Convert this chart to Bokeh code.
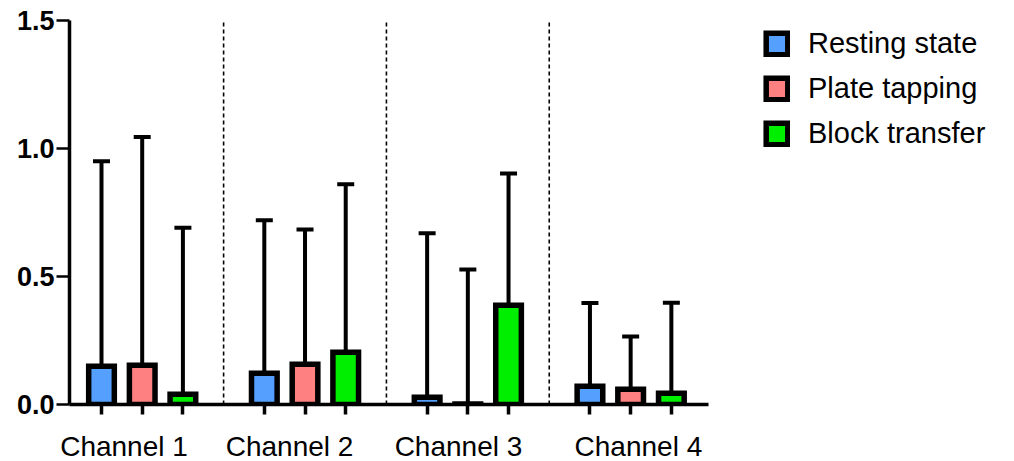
import numpy as np
from bokeh.plotting import figure
from bokeh.models import (ColumnDataSource, Range1d, FixedTicker, LinearAxis, Legend, LegendItem,
                          Whisker, TeeHead, NumeralTickFormatter)
from bokeh.embed import file_html
from bokeh.resources import INLINE

# ---- data ----
channels = ["Channel 1", "Channel 2", "Channel 3", "Channel 4"]
series = ["Resting state", "Plate tapping", "Block transfer"]
resting_mean = [0.149, 0.122, 0.028, 0.071]
tapping_mean = [0.153, 0.157, 0.002, 0.060]
block_mean = [0.040, 0.204, 0.388, 0.044]
resting_sd = [0.801, 0.598, 0.641, 0.325]
tapping_sd = [0.892, 0.527, 0.525, 0.206]
block_sd = [0.650, 0.656, 0.514, 0.353]
colors = ["#55A0FF", "#FF8080", "#00EE00"]
y_ticks = [0.0, 0.5, 1.0, 1.5]

means = [resting_mean, tapping_mean, block_mean]
sds = [resting_sd, tapping_sd, block_sd]

GROUP = 4  # slots per channel (3 bars + gap)
n = len(channels)

p = figure(frame_width=945, frame_height=384, output_backend="svg", toolbar_location=None,
           x_range=Range1d(-0.786, 22.43), y_range=Range1d(0, 1.5),
           x_axis_type=None, y_axis_type=None,
           min_border_left=69, min_border_right=0, min_border_top=20, min_border_bottom=0)
p.outline_line_color = None
p.xgrid.visible = False
p.ygrid.visible = False

# separators between channels
sep_x = [GROUP * (i + 1) - 1 for i in range(n - 1)]
p.segment(x0=sep_x, y0=[0] * len(sep_x), x1=sep_x, y1=[1.5] * len(sep_x),
          line_color="black", line_width=1.6, line_dash="4 3")

items = []
bar_positions = []
for j, name in enumerate(series):
    xs = [GROUP * i + j for i in range(n)]
    bar_positions += xs
    mean = np.array(means[j])
    upper = mean + np.array(sds[j])
    src = ColumnDataSource(dict(x=xs, top=mean, upper=upper))
    r = p.vbar(x="x", top="top", bottom=0, width=0.63, source=src,
               fill_color=colors[j], line_color="black", line_width=5.5, line_join="miter")
    w = Whisker(base="x", lower="top", upper="upper", source=src, dimension="height",
                line_color="black", line_width=4, lower_head=None,
                upper_head=TeeHead(size=17, line_width=4, line_color="black"))
    p.add_layout(w)
    items.append(LegendItem(label=name, renderers=[r]))

# y axis
yax = LinearAxis(ticker=FixedTicker(ticks=y_ticks), formatter=NumeralTickFormatter(format="0.0"),
                 bounds=(0, 1.5))
yax.axis_line_width = 3.5
yax.major_tick_line_width = 2.5
yax.major_tick_out = 13
yax.major_tick_in = 0
yax.minor_tick_line_color = None
yax.major_label_standoff = 2
yax.major_label_text_font = "Liberation Sans"
yax.major_label_text_font_style = "bold"
yax.major_label_text_font_size = "27px"
yax.major_label_text_color = "black"
p.add_layout(yax, "left")

# x axis: minor ticks under each bar, channel labels as major labels
label_pos = [0.553, 4.62, 8.77, 13.19]
xax = LinearAxis(ticker=FixedTicker(ticks=label_pos, minor_ticks=sorted(bar_positions)),
                 bounds=(-0.786, 14.91),
                 major_label_overrides={pos: lab for pos, lab in zip(label_pos, channels)})
xax.axis_line_width = 3.5
xax.major_tick_line_color = None
xax.major_tick_out = 0
xax.major_tick_in = 0
xax.minor_tick_line_width = 3.5
xax.minor_tick_out = 10
xax.minor_tick_in = 0
xax.major_label_standoff = 16
xax.major_label_text_font = "Liberation Sans"
xax.major_label_text_font_size = "28px"
xax.major_label_text_color = "black"
p.add_layout(xax, "below")

legend = Legend(items=items, location=(694, 254), orientation="vertical",
                glyph_width=27, glyph_height=27, label_height=33, spacing=12,
                label_standoff=18, padding=0, margin=0,
                label_text_font="Liberation Sans", label_text_font_size="29px",
                label_text_color="black", border_line_color=None, background_fill_alpha=0)
p.add_layout(legend)

open("out.html", "w").write(file_html(p, INLINE))
